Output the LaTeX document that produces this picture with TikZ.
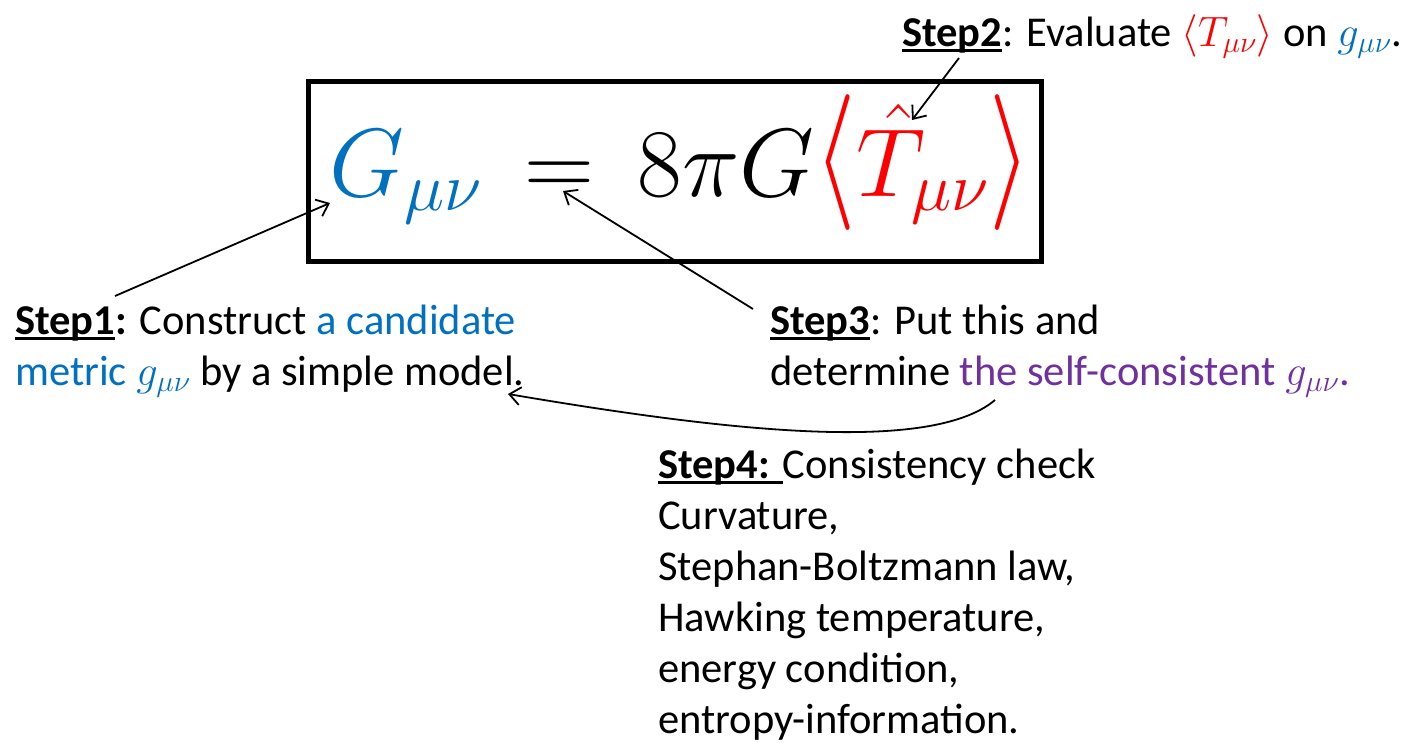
\documentclass[tikz,border=0pt]{standalone}
\usepackage{fix-cm}
\usepackage{graphicx}
\usepackage{fontspec}
\setmainfont{Carlito}
\usetikzlibrary{arrows.meta}
\definecolor{ublue}{RGB}{0,112,192}
\definecolor{upurple}{RGB}{112,48,160}
\definecolor{ured}{RGB}{255,0,0}
\newcommand{\stepul}[1]{\setbox0\hbox{#1}\rlap{\rule[-0.13em]{\wd0}{0.065em}}\box0}
\newcommand{\tallangle}[1]{\hbox{\scalebox{1.1}[1.4]{$#1$}}}
\begin{document}
\begin{tikzpicture}[x=1pt,y=-1pt,
  txt/.style={font=\fontsize{42.5}{51}\selectfont, inner sep=0pt, align=left},
  conn/.style={line width=1.8pt, -{Straight Barb[length=11pt,width=18pt]}}]
\useasboundingbox (0,0) rectangle (1412,742);
\fill[white] (0,0) rectangle (1412,742);

\node[draw, line width=5pt, minimum width=733pt, minimum height=180pt, inner sep=0pt] (eqbox) at (675,171.5) {};
\node[inner sep=0pt, anchor=base, font=\fontsize{97}{110}\selectfont] (eq) at (680,196)
  {$\color{ublue}G_{\mu\nu}\color{black}\,=\,8\pi G\color{ured}\mathopen{\tallangle{\langle}}\hat{T}_{\mu\nu}\mathclose{\tallangle{\rangle}}$};

\node[txt, anchor=base west] (s2) at (902,46)
  {\stepul{\textbf{Step2}}: Evaluate {\color{ured}$\langle T_{\mu\nu}\rangle$} on {\color{ublue}$g_{\mu\nu}$}.};

\node[txt, anchor=base west] (s1) at (15,385)
  {\stepul{\textbf{Step1}}\textbf{:} Construct {\color{ublue}a candidate}\\
   {\color{ublue}metric $g_{\mu\nu}$} by a simple model.};

\node[txt, anchor=base west] (s3) at (770,385)
  {\stepul{\textbf{Step3}}: Put this and\\
   determine {\color{upurple}the self-consistent $g_{\mu\nu}$.}};

\node[txt, anchor=base west] (s4) at (658,733)
  {\stepul{\textbf{Step4: }}Consistency check\\
   Curvature,\\
   Stephan-Boltzmann law,\\
   Hawking temperature,\\
   energy condition,\\
   entropy-information.};

\coordinate (a1s) at (115,296);
\coordinate (a1e) at (330,203);
\coordinate (a2s) at (959,58);
\coordinate (a2e) at (912,120);
\coordinate (a3s) at (753,309);
\coordinate (a3e) at (563,191);
\coordinate (a4s) at (995,400);
\coordinate (a4e) at (508,394);

\draw[conn] (a1s) -- (a1e);
\draw[conn] (a2s) -- (a2e);
\draw[conn] (a3s) -- (a3e);
\draw[conn] (a4s) .. controls (930,455) and (720,430) .. (a4e);
\end{tikzpicture}
\end{document}
